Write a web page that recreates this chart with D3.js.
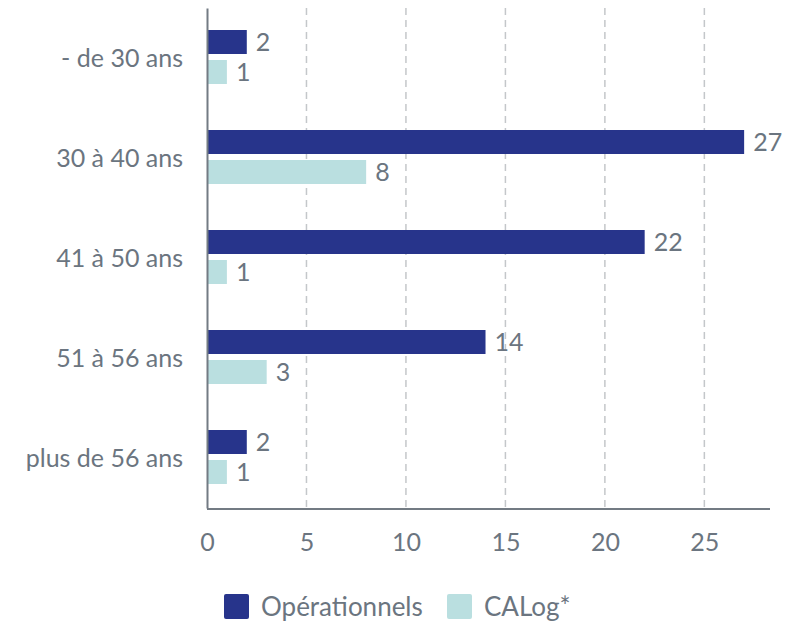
<!DOCTYPE html>
<html>
<head>
<meta charset="utf-8">
<script src="https://cdn.jsdelivr.net/npm/d3@7"></script>
<style>
  body { margin: 0; background: #fff; }
  svg text { font-family: Lato, 'Open Sans', sans-serif; fill: #6b7580; }
</style>
</head>
<body>
<div id="chart"></div>
<script>
const categories = ['- de 30 ans', '30 à 40 ans', '41 à 50 ans', '51 à 56 ans', 'plus de 56 ans'];
const seriesNames = ['Opérationnels', 'CALog*'];
const operationnels = [2, 27, 22, 14, 2];
const calog = [1, 8, 1, 3, 1];
const xTicks = [0, 5, 10, 15, 20, 25];
const colors = ['#27348b', '#badfe0'];

const w = 804, h = 624;
const mLeft = 207, mRight = 770, mTop = 8, mBottom = 508;

const svg = d3.select('#chart').append('svg')
  .attr('width', w)
  .attr('height', h);

const x = d3.scaleLinear().domain([0, 28.3]).range([mLeft, mRight]);
const y = d3.scaleBand().domain(categories).range([mTop, mBottom]);
const ySub = d3.scaleBand().domain(seriesNames).range([22, 76]).paddingInner(0.2);

// dashed grid
svg.append('g')
  .selectAll('line')
  .data(xTicks.slice(1))
  .enter()
  .append('line')
  .attr('x1', d => x(d))
  .attr('x2', d => x(d))
  .attr('y1', mTop)
  .attr('y2', mBottom + 1)
  .attr('stroke', '#c4c7ca')
  .attr('stroke-width', 1.5)
  .attr('stroke-dasharray', '7,5');

// bars
const rows = categories.map((c, i) => ({ cat: c, vals: [operationnels[i], calog[i]] }));
const groups = svg.append('g').selectAll('g')
  .data(rows)
  .enter()
  .append('g')
  .attr('transform', d => 'translate(0,' + y(d.cat) + ')');

groups.selectAll('rect')
  .data(d => d.vals.map((v, j) => ({ name: seriesNames[j], v: v, j: j })))
  .enter()
  .append('rect')
  .attr('x', x(0))
  .attr('y', d => ySub(d.name))
  .attr('width', d => x(d.v) - x(0))
  .attr('height', ySub.bandwidth())
  .attr('fill', d => colors[d.j]);

groups.selectAll('text')
  .data(d => d.vals.map((v, j) => ({ name: seriesNames[j], v: v })))
  .enter()
  .append('text')
  .attr('x', d => x(d.v) + 9)
  .attr('y', d => ySub(d.name) + ySub.bandwidth() / 2)
  .attr('dy', '0.36em')
  .style('font-size', '25px')
  .text(d => d.v);

// y axis
const yAxis = d3.axisLeft(y).tickSize(0).tickPadding(24);
const gy = svg.append('g')
  .attr('transform', 'translate(' + mLeft + ',0)')
  .call(yAxis);
gy.select('.domain').attr('stroke', '#737b83').attr('stroke-width', 2);
gy.selectAll('text').style('font-size', '25px').attr('dy', '0.36em');

// x axis
const xAxis = d3.axisBottom(x).tickValues(xTicks).tickSize(0).tickPadding(24);
const gx = svg.append('g')
  .attr('transform', 'translate(0,' + (mBottom + 1) + ')')
  .call(xAxis);
gx.select('.domain').attr('stroke', '#737b83').attr('stroke-width', 2)
  .attr('d', 'M' + mLeft + ',0H' + mRight);
gx.selectAll('text').style('font-size', '25px');

// legend
const legend = svg.append('g').attr('transform', 'translate(224,594)');
const legendX = [0, 223];
seriesNames.forEach((name, i) => {
  const g = legend.append('g').attr('transform', 'translate(' + legendX[i] + ',0)');
  g.append('rect')
    .attr('width', 25)
    .attr('height', 25)
    .attr('rx', 2)
    .attr('fill', colors[i]);
  g.append('text')
    .attr('x', 37)
    .attr('y', 13)
    .attr('dy', '0.36em')
    .style('font-size', '26px')
    .text(name);
});
</script>
</body>
</html>
